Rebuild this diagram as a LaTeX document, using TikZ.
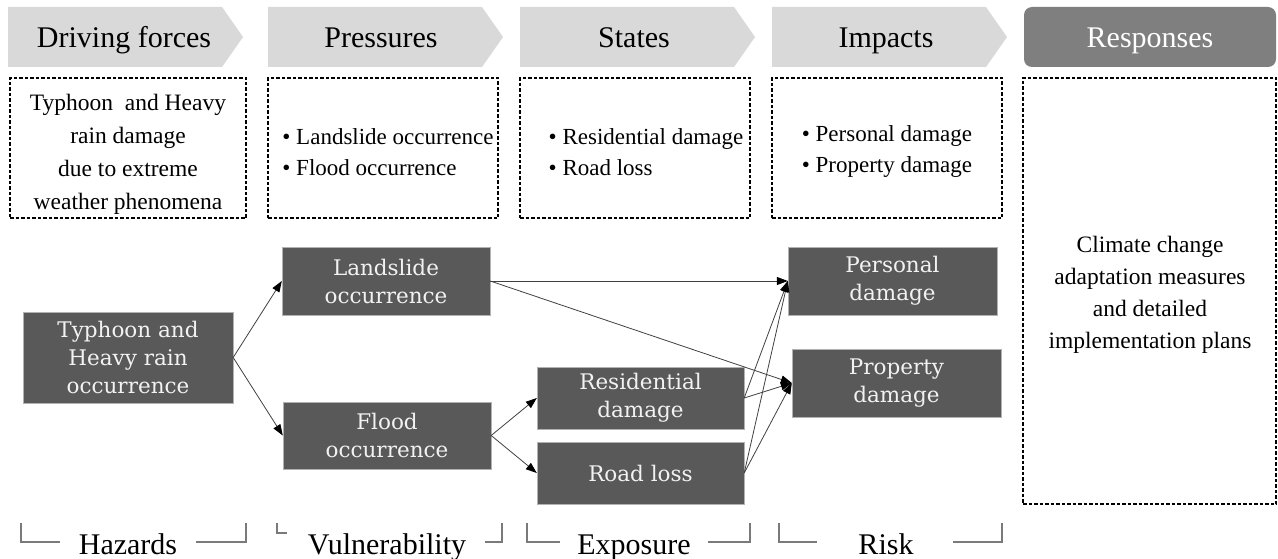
\documentclass[tikz,border=0pt]{standalone}
\usepackage{fontspec}
\setmainfont{Liberation Serif}
\newfontfamily\boxfont{DejaVu Serif}
\usetikzlibrary{arrows.meta}

\definecolor{chevgray}{HTML}{D9D9D9}
\definecolor{respgray}{HTML}{7F7F7F}
\definecolor{boxgray}{HTML}{595959}
\definecolor{boxtext}{HTML}{F2F2F2}
\definecolor{linkgray}{HTML}{404040}
\definecolor{brackgray}{HTML}{7A7A7A}

\tikzset{
  hdrtext/.style={font=\fontsize{30}{36}\selectfont, inner sep=0pt, anchor=base},
  notebox/.style={draw=black, line width=1.1pt, dash pattern=on 3.5pt off 2pt, inner sep=0pt},
  notetext/.style={font=\fontsize{23.5}{33}\selectfont, align=center, inner sep=0pt},
  listtext/.style={font=\fontsize{23}{31}\selectfont, align=left, inner sep=0pt},
  factor/.style={fill=boxgray, draw=gray!60, line width=0.4pt, text=boxtext,
    font=\boxfont\fontsize{21.5}{28}\selectfont, align=center, inner sep=0pt},
  link/.style={draw=linkgray, line width=0.8pt,
    -{Triangle[length=11pt,width=8pt,color=black]}},
  bracket/.style={draw=brackgray, line width=1.3pt},
  dpsirlabel/.style={font=\fontsize{30}{36}\selectfont, anchor=base, inner sep=0pt},
}

\begin{document}
\begin{tikzpicture}[x=1pt,y=-1pt]
\useasboundingbox (0,0) rectangle (1278,559);

% header arrows
\foreach \x in {8,268,520,772}{
  \fill[chevgray] (\x,7) -- (\x+214,7) -- (\x+235,37) -- (\x+214,67) -- (\x,67) -- cycle;
}
\fill[respgray, rounded corners=8pt] (1024,7) rectangle (1276,67);

\node[hdrtext] (hD) at (124,48) {Driving forces};
\node[hdrtext] (hP) at (381,48) {Pressures};
\node[hdrtext] (hS) at (634,48) {States};
\node[hdrtext] (hI) at (886,48) {Impacts};
\node[hdrtext, text=white] (hR) at (1150,48) {Responses};

% dashed description boxes
\node[notebox, minimum width=236, minimum height=140] (nD) at (128,148) {};
\node[notebox, minimum width=230, minimum height=140] (nP) at (383,148) {};
\node[notebox, minimum width=230, minimum height=140] (nS) at (635,148) {};
\node[notebox, minimum width=230, minimum height=140] (nI) at (887,148) {};
\node[notebox, minimum width=253, minimum height=426] (nR) at (1149.5,291) {};

\node[notetext] (tD) at (128,154) {Typhoon\ \ and Heavy\\rain damage\\due to extreme\\weather phenomena};
\node[listtext] (tP) at (388,152) {\textbullet\ Landslide occurrence\\\textbullet\ Flood occurrence};
\node[listtext] (tS) at (646,152) {\textbullet\ Residential damage\\\textbullet\ Road loss};
\node[listtext] (tI) at (887,152) {\textbullet\ Personal damage\\\textbullet\ Property damage};
\node[notetext, font=\fontsize{23.5}{32}\selectfont] (tR) at (1150,295) {Climate change\\adaptation measures\\and detailed\\implementation plans};

% factor boxes
\node[factor, minimum width=210, minimum height=91] (ty) at (128,357.5) {Typhoon and\\Heavy rain\\occurrence};
\node[factor, minimum width=208, minimum height=68] (ls) at (386,281) {Landslide\\occurrence};
\node[factor, minimum width=208, minimum height=67] (fl) at (387,435.5) {Flood\\occurrence};
\node[factor, minimum width=207, minimum height=62] (rd) at (640.5,398) {Residential\\damage};
\node[factor, minimum width=207, minimum height=62] (rl) at (640.5,473) {Road loss};
\node[factor, minimum width=209, minimum height=68] (pe) at (892.5,281) {Personal\\damage};
\node[factor, minimum width=209, minimum height=68] (pr) at (896.5,383) {Property\\damage};

% links
\draw[link] (ty.east) -- (ls.west);
\draw[link] (ty.east) -- (fl.west);
\draw[link] (fl.east) -- (rd.west);
\draw[link] (fl.east) -- (rl.west);
\draw[link] (ls.east) -- (pe.west);
\draw[link] (ls.east) -- (pr.west);
\draw[link] (rd.east) -- (pe.west);
\draw[link] (rd.east) -- (pr.west);
\draw[link] (rl.east) -- (pe.west);
\draw[link] (rl.east) -- (pr.west);

% bottom brackets
\draw[bracket] (21,523) -- (21,542) -- (60,542);
\draw[bracket] (196,542) -- (246,542) -- (246,523);
\node[dpsirlabel] (bH) at (128,554) {Hazards};

\draw[bracket] (277,523) -- (277,533) -- (287,533);
\draw[bracket] (485,542) -- (502,542) -- (502,523);
\node[dpsirlabel] (bV) at (387,554) {Vulnerability};

\draw[bracket] (527,523) -- (527,542) -- (560,542);
\draw[bracket] (708,542) -- (750,542) -- (750,523);
\node[dpsirlabel] (bE) at (634,554) {Exposure};

\draw[bracket] (779,523) -- (779,542) -- (817,542);
\draw[bracket] (953,542) -- (1002,542) -- (1002,523);
\node[dpsirlabel] (bR) at (886,554) {Risk};
\end{tikzpicture}
\end{document}
